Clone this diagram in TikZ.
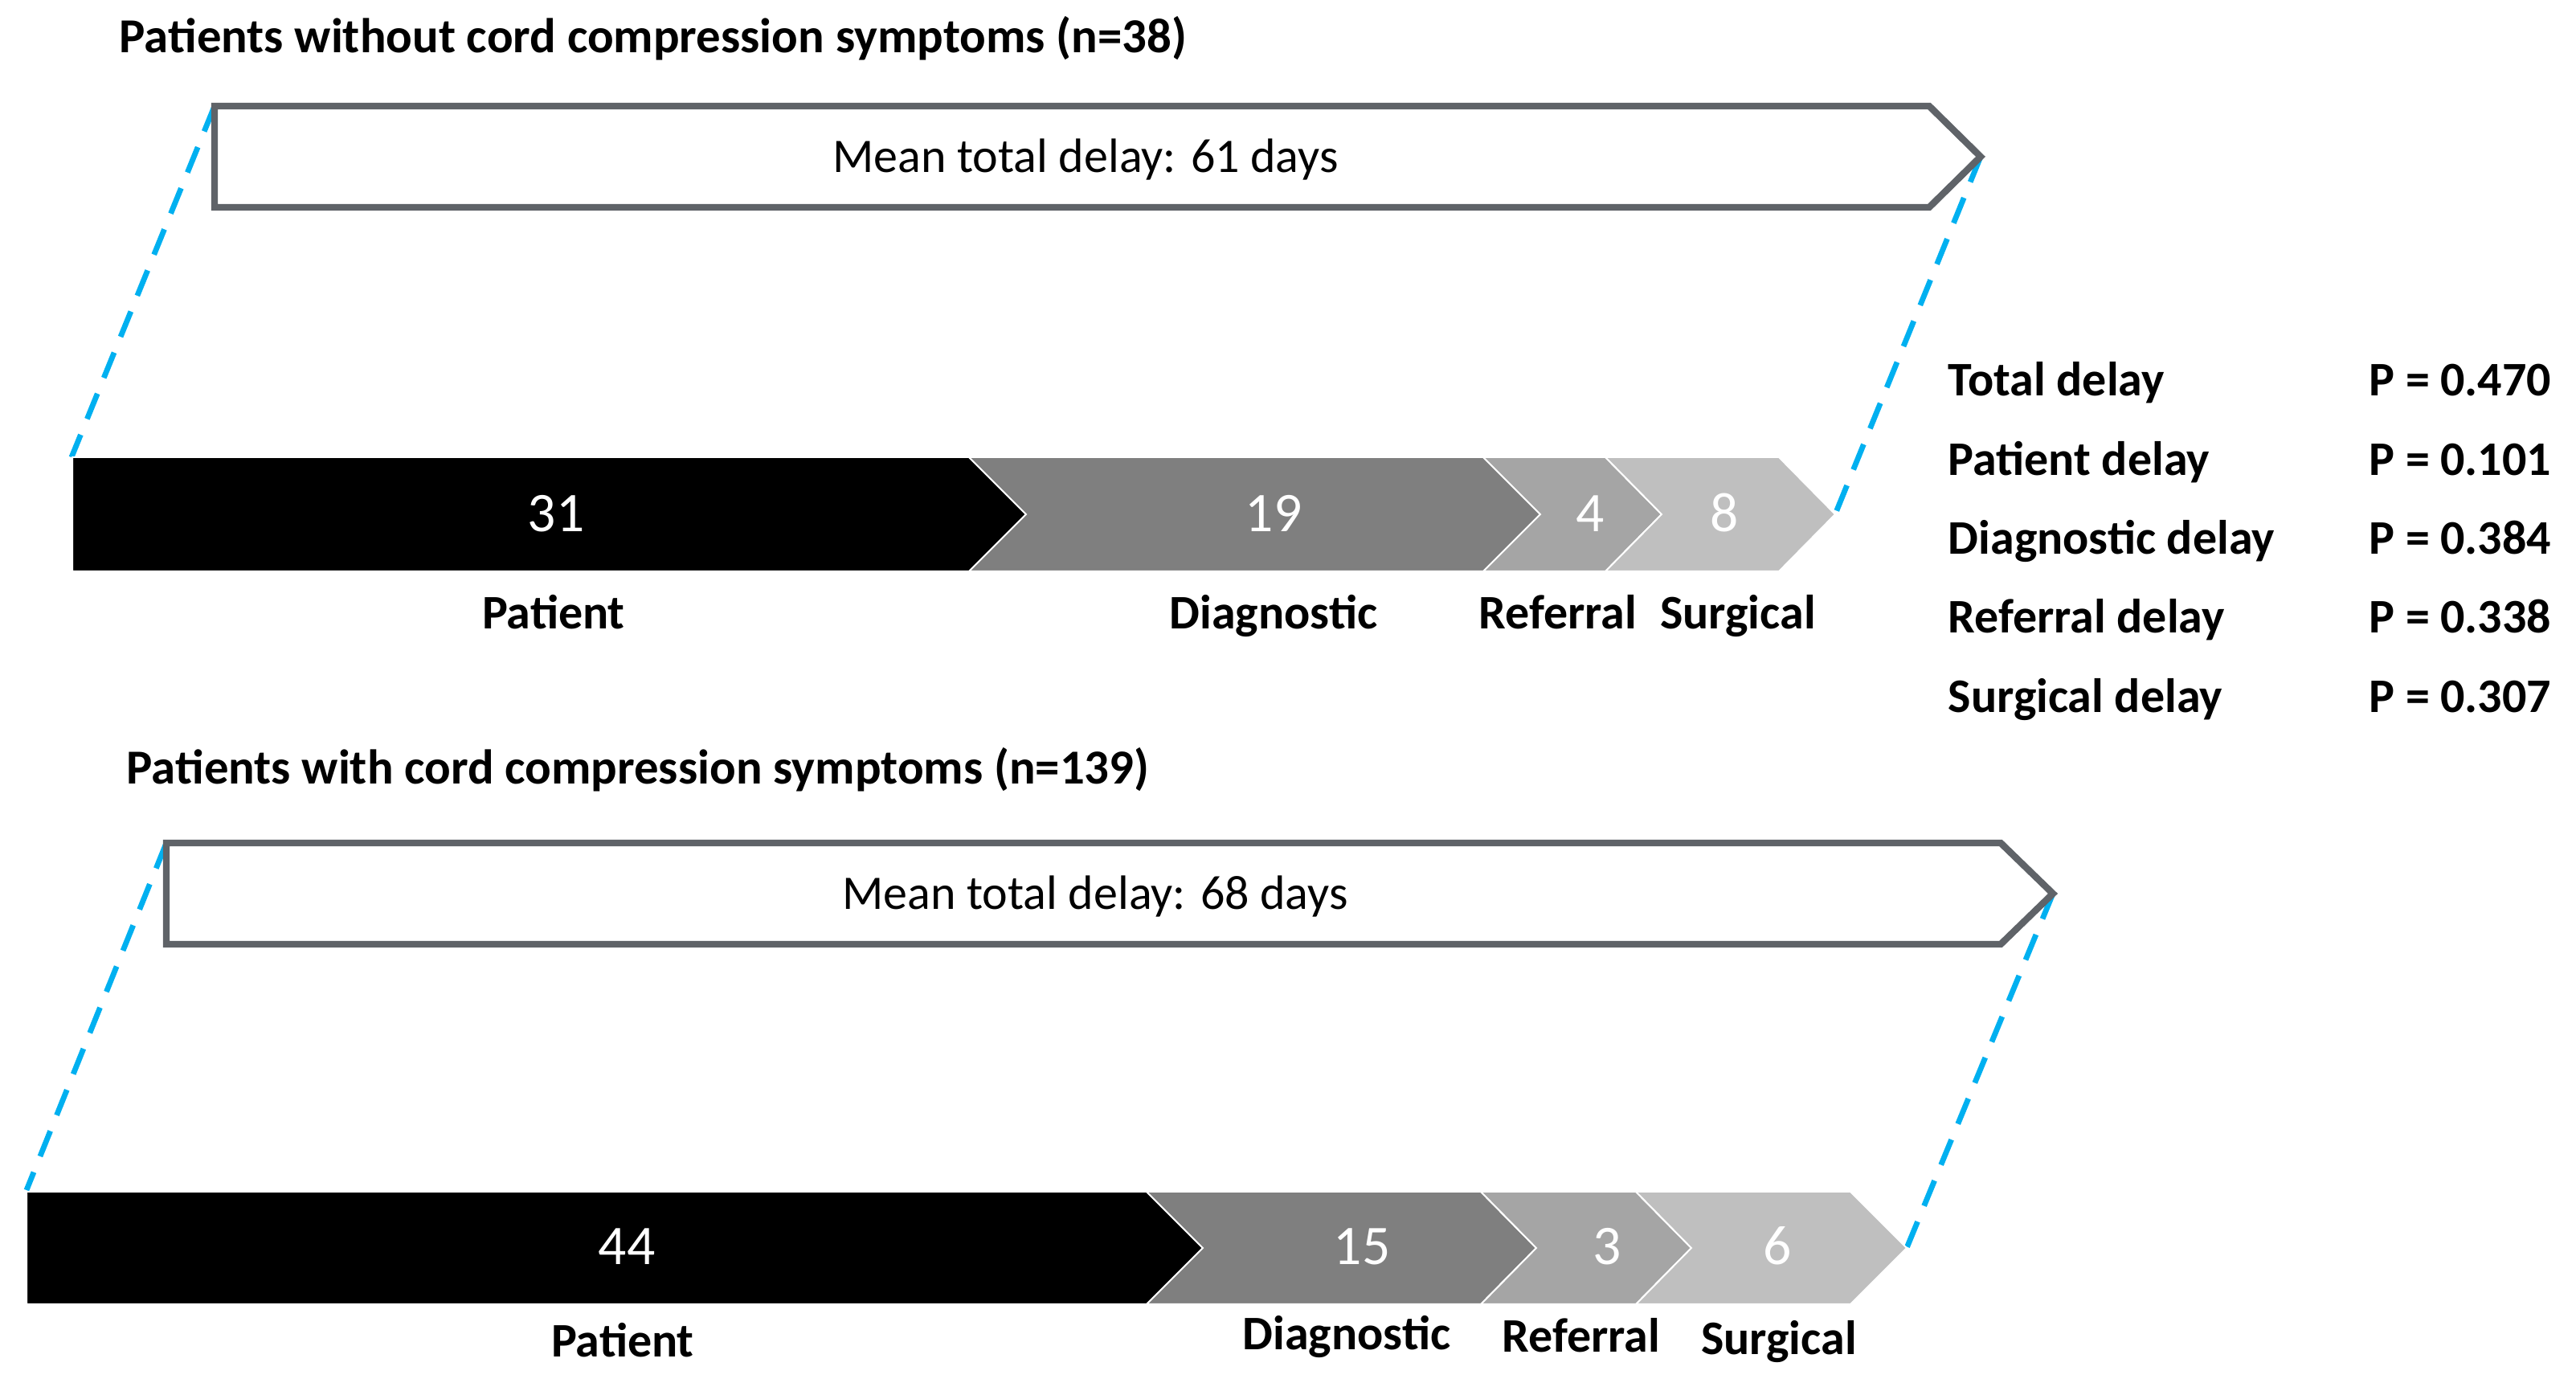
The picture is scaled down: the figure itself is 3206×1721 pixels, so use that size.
\documentclass[tikz,border=0pt]{standalone}
\usepackage{fontspec}
\setmainfont{Carlito}
\definecolor{outl}{RGB}{95,99,104}
\definecolor{dblue}{RGB}{0,176,240}
\definecolor{segA}{RGB}{0,0,0}
\definecolor{segB}{RGB}{127,127,127}
\definecolor{segC}{RGB}{165,165,165}
\definecolor{segD}{RGB}{191,191,191}
\tikzset{
  bigarrow/.style={draw=outl, line width=2.1pt, fill=white, line join=miter},
  seg/.style={draw=white, line width=0.5pt},
  link/.style={draw=dblue, line width=1.7pt, dash pattern=on 8.5pt off 5.3pt},
  title/.style={font=\fontsize{15.2}{18}\selectfont\bfseries, inner sep=0pt, anchor=base west},
  meantxt/.style={font=\fontsize{15}{18}\selectfont, inner sep=0pt, anchor=base},
  num/.style={font=\fontsize{17.4}{20}\selectfont, text=white, inner sep=0pt, anchor=base},
  lab/.style={font=\fontsize{15}{18}\selectfont\bfseries, inner sep=0pt, anchor=base},
  statname/.style={font=\fontsize{15}{18}\selectfont\bfseries, inner sep=0pt, anchor=base west},
  statval/.style={font=\fontsize{15}{18}\selectfont\bfseries, inner sep=0pt, anchor=base east}
}
\begin{document}
\begin{tikzpicture}[x=0.25pt,y=-0.25pt]
\useasboundingbox (0,0) rectangle (3206,1721);

% ---------- top group ----------
\node[title] (t1) at (148,66) {Patients without cord compression symptoms (n=38)};

\coordinate (a1tl) at (267,132);
\coordinate (a1tip) at (2465,195);
\coordinate (b1tl) at (89,569);
\coordinate (b1tip) at (2284,640);
\draw[link] (a1tl) -- (b1tl);
\draw[link] (a1tip) -- (b1tip);

\path[bigarrow] (267,132) -- (2401,132) -- (2465,195) -- (2401,258) -- (267,258) -- cycle;
\node[meantxt] (m1) at (1351,215) {Mean total delay: 61 days};

\path[seg, fill=segA] (90,569) -- (1206,569) -- (1277,640) -- (1206,711) -- (90,711) -- cycle;
\path[seg, fill=segB] (1206,569) -- (1846,569) -- (1917,640) -- (1846,711) -- (1206,711) -- (1277,640) -- cycle;
\path[seg, fill=segC] (1846,569) -- (1998,569) -- (2068,640) -- (1998,711) -- (1846,711) -- (1917,640) -- cycle;
\path[seg, fill=segD] (1998,569) -- (2214,569) -- (2284,640) -- (2214,711) -- (1998,711) -- (2068,640) -- cycle;

\node[num] (n1a) at (692,662) {31};
\node[num] (n1b) at (1585,662) {19};
\node[num] (n1c) at (1979,662) {4};
\node[num] (n1d) at (2146,662) {8};

\node[lab] (l1a) at (689,783) {Patient};
\node[lab] (l1b) at (1585,783) {Diagnostic};
\node[lab] (l1c) at (1939,783) {Referral};
\node[lab] (l1d) at (2163,783) {Surgical};

% ---------- statistics ----------
\node[statname] (s1) at (2424,493) {Total delay};
\node[statname] (s2) at (2424,592) {Patient delay};
\node[statname] (s3) at (2424,690) {Diagnostic delay};
\node[statname] (s4) at (2424,788) {Referral delay};
\node[statname] (s5) at (2424,887) {Surgical delay};
\node[statval] (p1) at (3176,493) {P = 0.470};
\node[statval] (p2) at (3176,592) {P = 0.101};
\node[statval] (p3) at (3176,690) {P = 0.384};
\node[statval] (p4) at (3176,788) {P = 0.338};
\node[statval] (p5) at (3176,887) {P = 0.307};

% ---------- bottom group ----------
\node[title] (t2) at (157,976) {Patients with cord compression symptoms (n=139)};

\coordinate (a2tl) at (207,1049);
\coordinate (a2tip) at (2555,1112);
\coordinate (b2tl) at (33,1481);
\coordinate (b2tip) at (2373,1553);
\draw[link] (a2tl) -- (b2tl);
\draw[link] (a2tip) -- (b2tip);

\path[bigarrow] (207,1049) -- (2490,1049) -- (2555,1112) -- (2490,1175) -- (207,1175) -- cycle;
\node[meantxt] (m2) at (1363,1132) {Mean total delay: 68 days};

\path[seg, fill=segA] (33,1483) -- (1427,1483) -- (1497,1553) -- (1427,1623) -- (33,1623) -- cycle;
\path[seg, fill=segB] (1427,1483) -- (1843,1483) -- (1912,1553) -- (1843,1623) -- (1427,1623) -- (1497,1553) -- cycle;
\path[seg, fill=segC] (1843,1483) -- (2036,1483) -- (2105,1553) -- (2036,1623) -- (1843,1623) -- (1912,1553) -- cycle;
\path[seg, fill=segD] (2036,1483) -- (2303,1483) -- (2373,1553) -- (2303,1623) -- (2036,1623) -- (2105,1553) -- cycle;

\node[num] (n2a) at (780,1573) {44};
\node[num] (n2b) at (1695,1573) {15};
\node[num] (n2c) at (2000,1573) {3};
\node[num] (n2d) at (2212,1573) {6};

\node[lab] (l2a) at (775,1688) {Patient};
\node[lab] (l2b) at (1676,1680) {Diagnostic};
\node[lab] (l2c) at (1968,1683) {Referral};
\node[lab] (l2d) at (2214,1685) {Surgical};
\end{tikzpicture}
\end{document}
